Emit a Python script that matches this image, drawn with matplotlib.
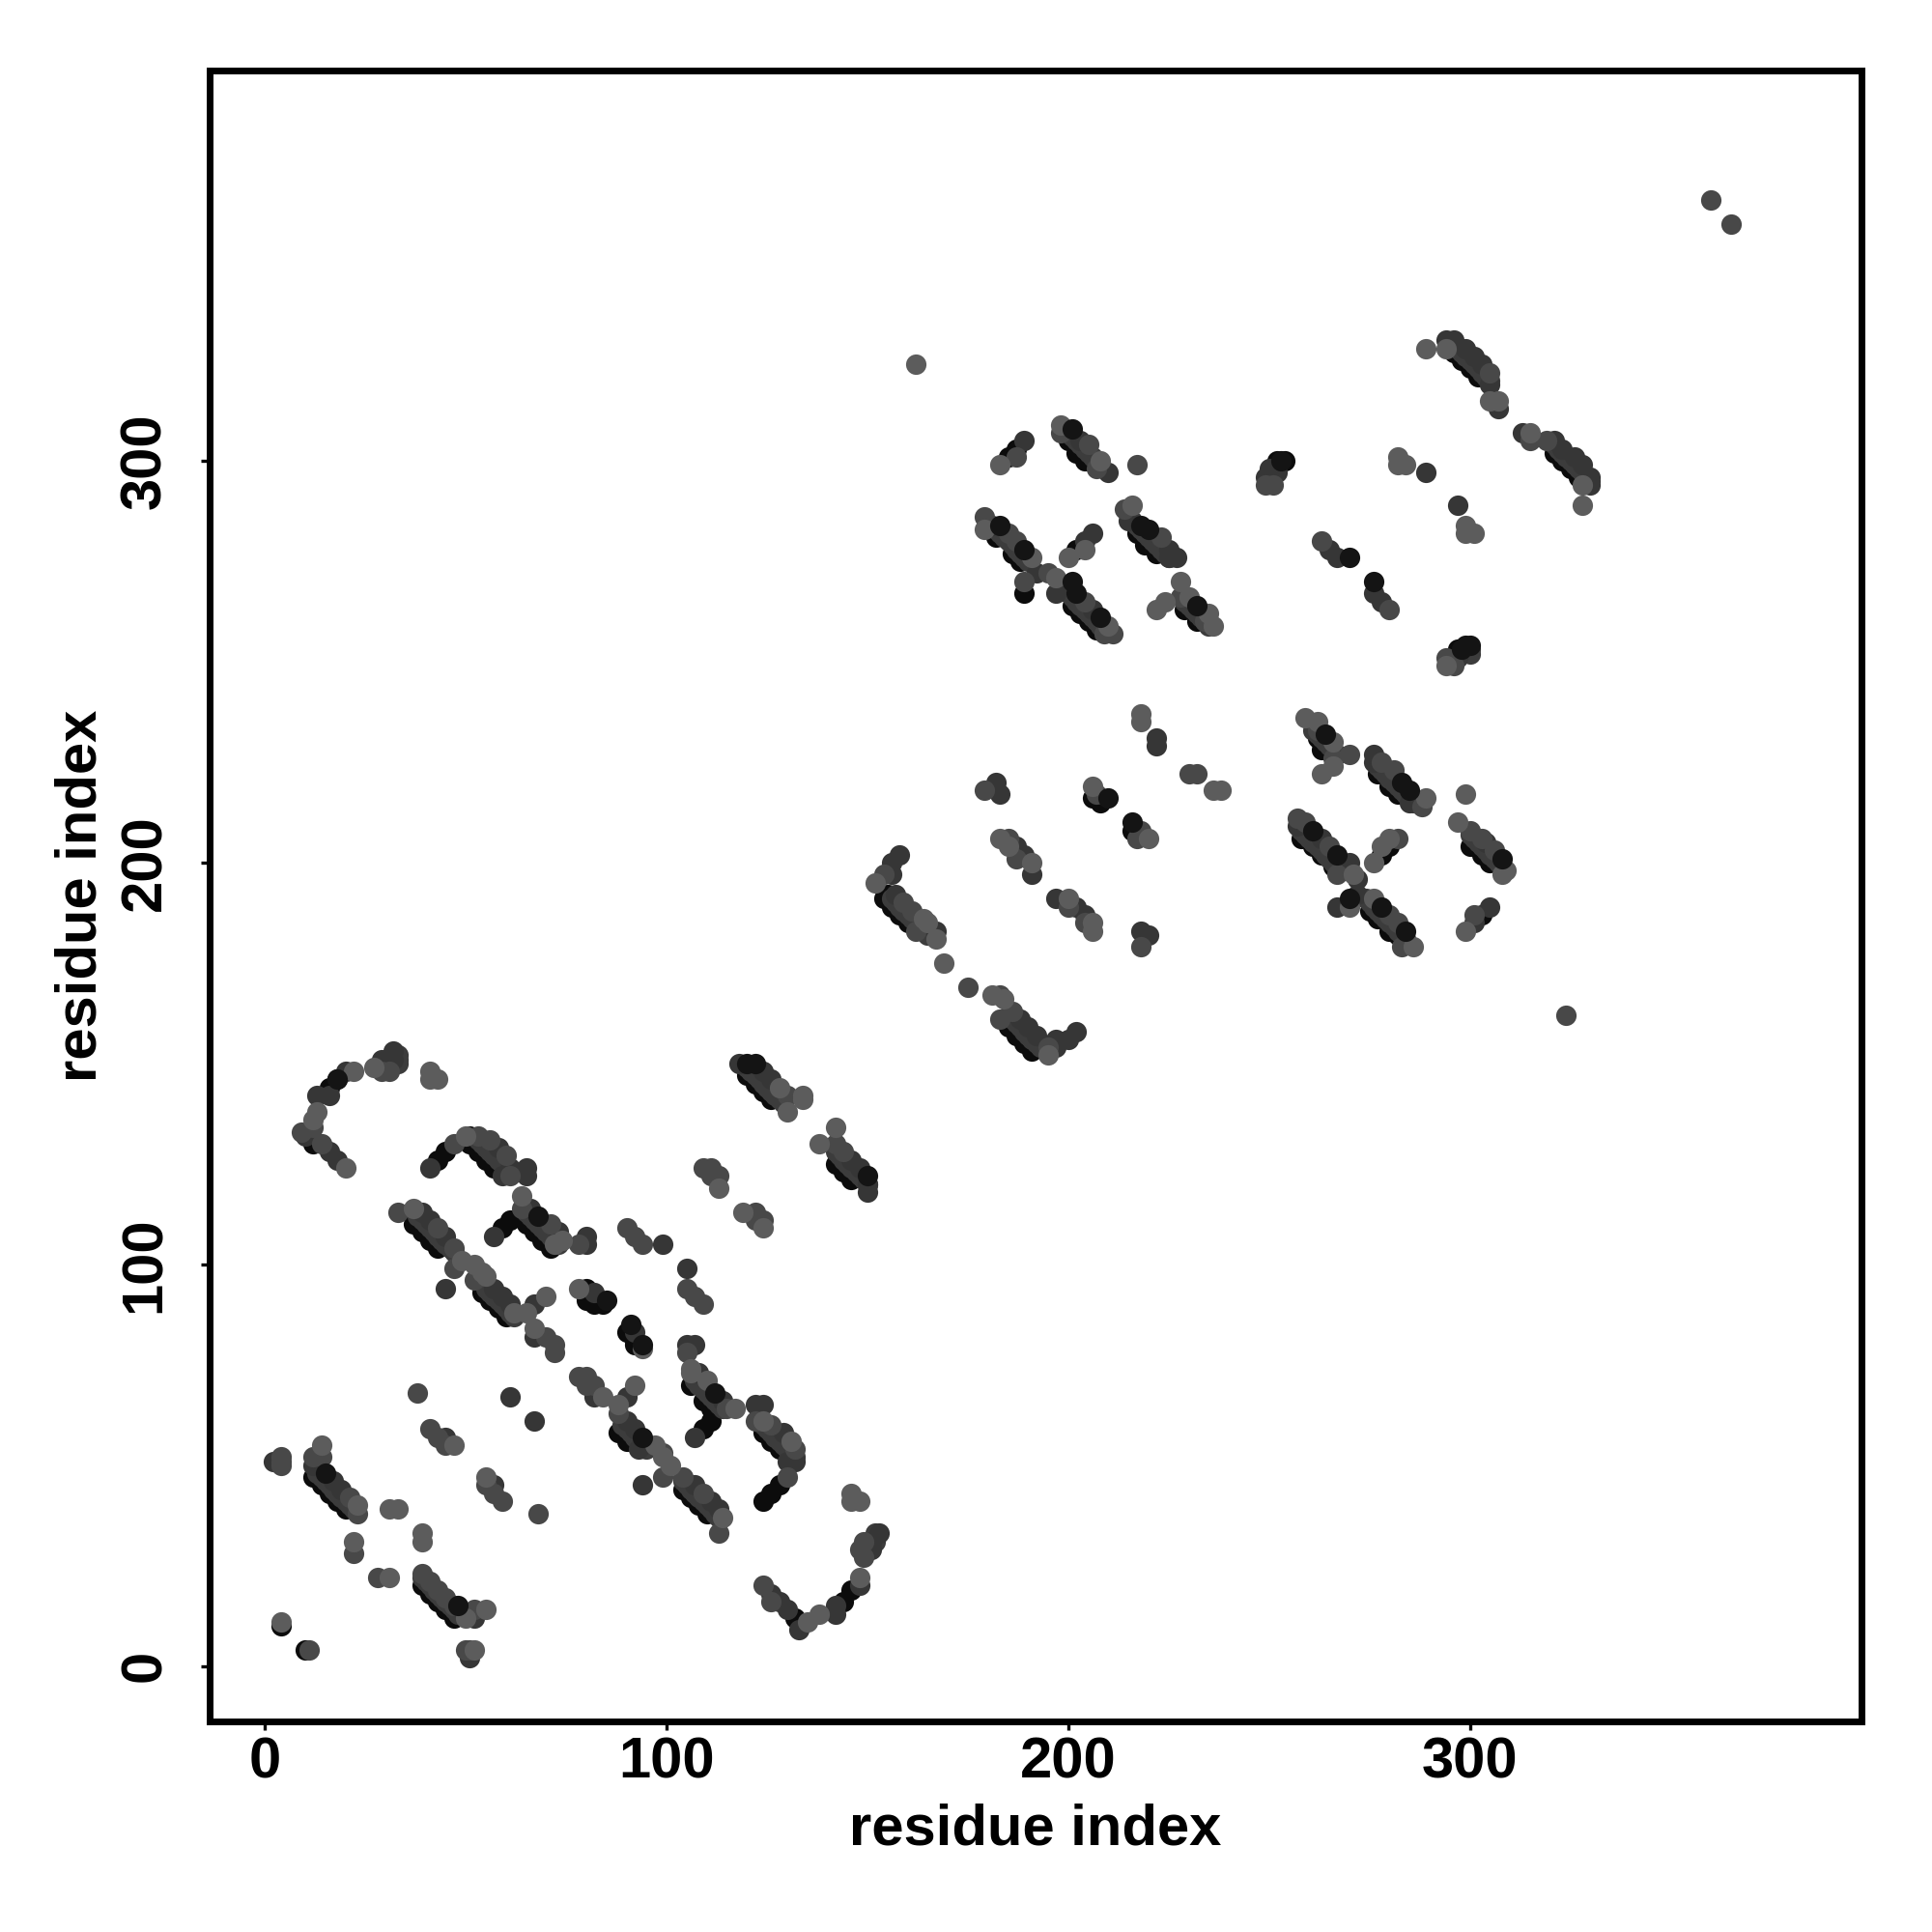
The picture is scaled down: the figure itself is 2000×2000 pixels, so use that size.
import matplotlib
matplotlib.use('Agg')
import matplotlib.pyplot as plt

plt.rcParams['font.family'] = ['Liberation Sans', 'DejaVu Sans']
plt.rcParams['font.weight'] = 'bold'

# residue pairs in contact, one list per grey level
edge_black = [(12,47),(14,45),(16,43),(18,41),(20,39),(39,20),(41,18),(43,16),(45,14),(47,12),(4,10),(10,4),
    (12,130),(16,144),(18,146),(43,126),(45,128),(51,130),(53,128),(55,126),(57,124),(51,132),
    (37,110),(39,108),(41,106),(43,104),(54,93),(56,91),(58,89),(60,87),
    (59,109),(61,111),(65,110),(67,108),(69,106),(71,104),(80,91),(80,94),(82,90),(84,90),
    (90,83),(92,81),(92,80),(88,58),(90,56),(104,44),(106,42),(108,40),(110,38),
    (106,70),(109,66),(111,64),(111,61),(109,59),(124,58),(126,56),(128,54),(128,45),(126,43),(124,41),
    (146,19),(144,16),(132,12),(120,147),(122,145),(124,143),(126,141),(142,125),(144,123),(146,121),
    (185,159),(187,157),(189,155),(191,153),(155,192),(154,191),(156,189),(158,187),(160,185),
    (206,216),(208,215),(216,208),(262,231),(263,228),(277,222),(280,219),(282,217),
    (300,204),(303,202),(305,200),(303,187),(280,204),(278,202),
    (258,206),(261,204),(263,202),(266,199),(275,188),(277,186),(280,183),(282,182),
    (185,301),(187,303),(200,305),(202,302),(204,300),(182,281),(186,277),(188,275),(189,267),
    (202,278),(201,264),(203,262),(205,260),(207,258),(217,282),(219,279),(222,277),(229,263),(232,260),
    (296,327),(298,325),(300,323),(302,321),(321,302),(323,300),(325,298),(327,296),
    (252,300),(254,300),(297,253)]

# middle of the long ladders
band_fill = [(13,48),(14,47),(15,46),(16,45),(17,44),(18,43),(19,42),(20,41),(21,40),(22,39),
    (39,22),(40,21),(41,20),(42,19),(43,18),(44,17),(45,16),(46,15),(47,14),(48,13),
    (53,131),(54,130),(55,129),(56,128),(57,127),(58,126),(59,125),(60,124),(61,123),
    (38,112),(39,111),(40,110),(41,109),(42,108),(43,107),(44,106),(45,105),(46,104),(47,103),
    (55,94),(56,93),(57,92),(58,91),(59,90),(60,89),(61,88),(62,87),
    (65,113),(66,112),(67,111),(68,110),(69,109),(70,108),(71,107),(72,106),(73,105),
    (89,60),(90,59),(91,58),(92,57),(93,56),(94,55),(95,54),
    (104,46),(105,45),(106,44),(107,43),(108,42),(109,41),(110,40),(111,39),(112,38),(113,37),
    (107,71),(108,70),(109,69),(110,68),(111,67),(112,66),(113,65),(114,64),
    (123,61),(124,60),(125,59),(126,58),(127,57),(128,56),(129,55),(130,54),(131,53),(132,52),
    (120,149),(121,148),(122,147),(123,146),(124,145),(125,144),(126,143),(127,142),(128,141),(129,140),
    (142,128),(143,127),(144,126),(145,125),(146,124),(147,123),(148,122),(149,121),(150,120),
    (185,162),(186,161),(187,160),(188,159),(189,158),(190,157),(191,156),(192,155),(193,154),
    (156,191),(157,190),(158,189),(159,188),(160,187),(161,186),(162,185),(163,184),(164,183),(165,182),
    (261,233),(262,232),(263,231),(264,230),(265,229),(266,228),
    (277,224),(278,223),(279,222),(280,221),(281,220),(282,219),(283,218),(284,217),(285,216),(286,215),
    (300,207),(301,206),(302,205),(303,204),(304,203),(305,202),(306,201),(307,200),(308,199),
    (258,208),(259,207),(260,206),(261,205),(262,204),(263,203),(264,202),(265,201),(266,200),(267,199),(268,198),
    (274,191),(275,190),(276,189),(277,188),(278,187),(279,186),(280,185),(281,184),(282,183),(283,182),(284,181),
    (182,283),(183,282),(184,281),(185,280),(186,279),(187,278),(188,277),(189,276),(190,275),
    (200,267),(201,266),(202,265),(203,264),(204,263),(205,262),(206,261),(207,260),(208,259),(209,258),
    (216,285),(217,284),(218,283),(219,282),(220,281),(221,280),(222,279),(223,278),(224,277),(225,276),
    (229,265),(230,264),(231,263),(232,262),(233,261),(234,260),(235,259),
    (200,307),(201,306),(202,305),(203,304),(204,303),(205,302),(206,301),(207,300),
    (296,329),(297,328),(298,327),(299,326),(300,325),(301,324),(302,323),(303,322),(304,321),(305,320),
    (321,304),(322,303),(323,302),(324,301),(325,300),(326,299),(327,298),(328,297),(329,296),(330,295),
    (30,150),(31,151),(33,152),(33,151),(33,150),(150,30),(151,31),(152,33),(152,32),(152,31),(299,253),(300,253),(300,252)]

dark = [(2,51),(12,50),(17,46),(19,44),(52,12),(51,2),(45,94),(94,45),(61,67),(67,61),(45,57),(57,45),(67,82),(67,90),
    (82,67),(90,67),(90,61),(92,59),(18,126),(16,128),(10,132),(13,142),(16,142),(20,148),(29,151),(32,153),(32,151),(31,150),
    (41,124),(58,129),(61,124),(65,124),(65,122),(59,122),(39,113),(41,111),(45,107),(57,94),(59,92),(61,90),
    (57,107),(66,114),(73,108),(80,107),(80,105),(99,105),(105,99),(82,93),(92,83),(105,80),(107,80),
    (108,73),(114,66),(93,54),(107,45),(111,41),(113,39),(107,57),(122,65),(124,65),(129,58),(132,51),(130,51),
    (153,33),(151,31),(151,29),(148,20),(142,15),(142,13),(133,9),(130,14),(128,16),(126,18),
    (118,150),(124,148),(126,146),(146,126),(148,124),(150,120),(150,118),
    (188,161),(190,159),(192,157),(197,156),(197,154),(200,156),(202,158),
    (158,202),(156,200),(156,197),(157,192),(167,183),(182,220),(183,217),(187,204),(189,202),(191,197),
    (197,191),(202,189),(204,187),(218,183),(220,182),(222,231),(222,229),
    (267,227),(276,227),(276,225),(285,215),(305,189),(301,185),(304,205),
    (257,209),(263,206),(270,200),(272,196),(267,189),(272,192),
    (189,305),(203,305),(210,297),(181,284),(192,272),(197,267),(206,263),(204,280),(206,282),
    (215,285),(225,278),(227,276),(225,276),
    (294,330),(296,330),(299,328),(301,326),(303,324),(305,319),(307,313),(313,307),(321,305),(323,303),(326,301),(328,299),(330,296),(330,294),
    (289,297),(297,289),(250,298),(252,297),(249,296),(297,251),(265,278),(267,276),(276,267),(278,265)]

mid = [(4,52),(4,51),(4,50),(11,4),(14,52),(12,52),(21,42),(23,38),(22,28),(28,22),(39,23),(41,21),(43,19),(45,17),(47,15),(52,14),(51,4),(50,4),
    (38,68),(41,59),(43,57),(45,55),(55,45),(57,43),(59,41),(68,38),(70,82),(72,80),(72,78),(78,72),(80,72),(82,70),(80,70),
    (88,63),(99,53),(99,47),(104,47),(109,43),(9,133),(12,134),(14,130),(31,148),(29,148),
    (47,130),(53,132),(56,131),(60,127),(61,122),(33,113),(43,109),(47,104),(47,99),(52,96),
    (64,114),(71,110),(78,105),(90,109),(92,107),(94,105),(105,94),(107,92),(109,90),
    (105,78),(115,64),(122,61),(126,60),(132,54),(130,47),(149,31),(148,29),(149,27),(124,20),(126,16),
    (109,124),(111,124),(111,122),(113,122),(122,113),(124,111),(122,111),(130,142),(142,130),(144,128),
    (183,167),(183,161),(186,163),(195,154),(159,190),(161,188),(162,183),(154,197),
    (179,218),(185,206),(187,201),(200,189),(204,185),(175,169),(207,217),(218,208),(217,206),(218,179),(230,222),(232,222),
    (262,233),(266,226),(270,227),(278,225),(281,223),(288,214),(300,208),(303,206),(306,203),(301,187),(282,206),
    (257,211),(259,210),(265,204),(267,197),(280,187),(282,185),(283,179),
    (187,301),(198,307),(205,304),(207,298),(179,286),(185,282),(187,280),(189,270),(195,272),(204,265),(211,257),(209,257),
    (214,288),(223,281),(228,266),(234,260),(305,322),(315,305),(319,305),
    (251,294),(249,294),(294,251),(296,249),(263,280),(280,263),(360,365),(365,359),(324,162),(217,299),(113,33)]

light = [(4,11),(14,55),(23,40),(31,39),(33,39),(22,31),(39,33),(39,31),(31,22),(55,14),(50,12),(52,4),
    (47,55),(55,47),(67,84),(84,67),(70,92),(92,70),(88,65),(97,55),(99,52),(101,50),
    (20,124),(22,148),(12,136),(13,138),(27,149),(41,148),(41,146),(43,146),(50,132),(62,88),(65,88),
    (37,114),(49,101),(52,100),(54,98),(55,97),(64,117),(74,106),(72,105),(114,37),(110,71),(106,73),(106,74),
    (117,64),(124,61),(131,56),(78,94),(94,79),(146,43),(146,41),(148,41),(148,22),(138,13),(135,11),
    (113,119),(119,113),(124,109),(128,144),(130,138),(134,142),(134,141),(142,134),(138,130),
    (181,167),(184,166),(195,152),(152,195),(164,186),(165,185),(167,181),(169,175),
    (183,206),(185,204),(191,200),(200,191),(206,185),(206,183),(206,219),(220,206),(218,237),(218,235),(236,218),(238,218),(162,324),
    (259,236),(262,235),(266,230),(266,224),(263,222),(289,216),(299,217),(297,210),(309,198),(308,197),
    (280,206),(278,204),(276,200),(271,197),(276,191),(270,189),(286,179),(299,183),
    (183,299),(198,309),(208,300),(179,283),(191,276),(197,271),(210,259),
    (200,276),(204,278),(216,289),(228,270),(224,265),(222,263),(230,266),(235,262),(236,259),
    (289,328),(294,328),(305,315),(307,315),(315,307),(328,294),(328,289),
    (282,301),(282,299),(284,299),(299,284),(299,282),(301,282),(294,249)]

top_black = [(15,48),(48,15),(18,146),(85,91),(94,80),(91,85),(68,112),(94,57),(112,68),(122,150),(120,150),(150,122),
    (201,308),(183,284),(189,278),(264,232),(261,208),(267,202),(283,220),(285,218),(278,189),(284,183),(308,201),
    (210,216),(216,210),(218,284),(220,283),(232,264),(201,270),(202,267),(208,261),(270,191),(270,276),(276,270),
    (253,300),(300,254),(299,254),(298,253)]

ticks = [0, 100, 200, 300]

fig = plt.figure(figsize=(10, 10), dpi=200)
ax = fig.add_axes([0.1085, 0.109, 0.855, 0.8546])

# darkest first, the lighter ones sit on top of them
layers = [(edge_black, '#0c0c0c'), (band_fill, '#3c3c3c'), (dark, '#363636'), (mid, '#484848'),
          (light, '#5c5c5c'), (top_black, '#141414')]
for pts, col in layers:
    xs, ys = zip(*pts)
    ax.scatter(xs, ys, s=58, color=col, linewidths=0)

ax.set_xlim(-13.8, 397.5)
ax.set_ylim(-13.8, 397.2)
ax.set_xticks(ticks)
ax.set_yticks(ticks)
ax.tick_params(axis='both', length=3.3, width=1.2, labelsize=21.5)
ax.tick_params(axis='x', pad=2.2)
ax.tick_params(axis='y', pad=10.7)
for lab in ax.get_yticklabels():
    lab.set_rotation(90)
    lab.set_va('center')
for s in ax.spines.values():
    s.set_linewidth(2.5)

ax.set_xlabel('residue index', fontsize=21.5, fontweight='bold')
ax.set_ylabel('residue index', fontsize=21.5, fontweight='bold')
ax.xaxis.set_label_coords(0.5, -0.0495)
ax.yaxis.set_label_coords(-0.0618, 0.5)

plt.savefig('out.png', dpi=200)
